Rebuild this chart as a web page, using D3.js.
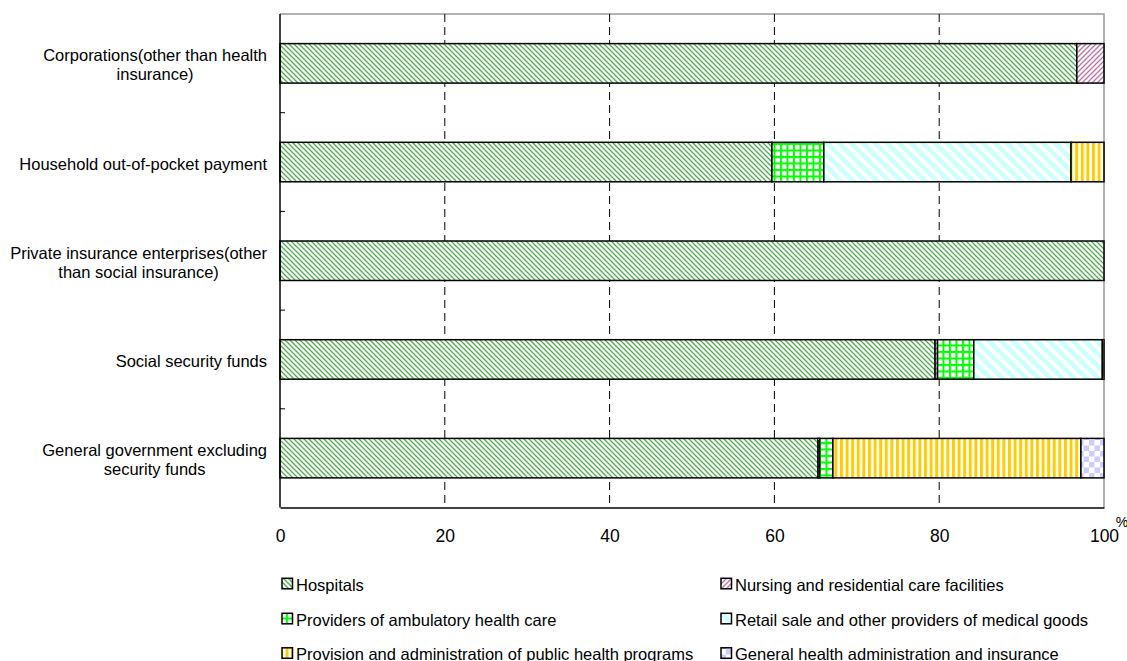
<!DOCTYPE html>
<html><head><meta charset="utf-8">
<script src="https://cdn.jsdelivr.net/npm/d3@7"></script>
<style>body{margin:0;background:#fff;} text{font-family:"Liberation Sans",Arial,sans-serif;fill:#000;}</style>
</head><body><svg id="c" width="1127" height="661"></svg>
<script>
const categories = [
  ["Corporations(other than health", "insurance)"],
  ["Household out-of-pocket payment"],
  ["Private insurance enterprises(other", "than social insurance)"],
  ["Social security funds"],
  ["General government excluding", "security funds"]
];
const seriesNames = [
  "Hospitals",
  "Nursing and residential care facilities",
  "Providers of ambulatory health care",
  "Retail sale and other providers of medical goods",
  "Provision and administration of public health programs",
  "General health administration and insurance"
];
const hospitals   = [96.7, 59.7, 100, 79.5, 65.3];
const nursing     = [3.3, 0, 0, 0.3, 0.2];
const ambulatory  = [0, 6.3, 0, 4.4, 1.6];
const retail      = [0, 30.0, 0, 15.6, 0];
const provision   = [0, 4.0, 0, 0.2, 30.1];
const generalAdm  = [0, 0, 0, 0, 2.8];
const xTicks = [0, 20, 40, 60, 80, 100];

const seriesVals = [hospitals, nursing, ambulatory, retail, provision, generalAdm];
const patIds = ["pHosp","pNurs","pAmb","pRet","pProv","pGen"];

const svg = d3.select("#c");
const L = 280, R = 1104, T = 14, B = 507.5;
const x = d3.scaleLinear().domain([0,100]).range([L,R]);
const y = d3.scaleBand().domain(d3.range(categories.length)).range([T,B]).paddingInner(0.6).paddingOuter(0.3);

// patterns
const defs = svg.append("defs");
let p = defs.append("pattern").attr("id","pHosp").attr("patternUnits","userSpaceOnUse").attr("width",5).attr("height",5);
p.append("rect").attr("width",5).attr("height",5).attr("fill","#fff");
p.append("path").attr("d","M0,0L5,5M-1,4L1,6M4,-1L6,1").attr("stroke","#4dab4d").attr("stroke-width",1.25);
p = defs.append("pattern").attr("id","pNurs").attr("patternUnits","userSpaceOnUse").attr("width",5).attr("height",5);
p.append("rect").attr("width",5).attr("height",5).attr("fill","#fff");
p.append("path").attr("d","M0,5L5,0M-1,1L1,-1M4,6L6,4").attr("stroke","#c0709c").attr("stroke-width",1.25);
p = defs.append("pattern").attr("id","pAmb").attr("patternUnits","userSpaceOnUse").attr("width",6.5).attr("height",6.5);
p.append("rect").attr("width",6.5).attr("height",6.5).attr("fill","#fff");
p.append("rect").attr("width",6.5).attr("height",2).attr("fill","#00ff00");
p.append("rect").attr("width",2).attr("height",6.5).attr("fill","#00ff00");
p = defs.append("pattern").attr("id","pRet").attr("patternUnits","userSpaceOnUse").attr("width",12).attr("height",12);
p.append("rect").attr("width",12).attr("height",12).attr("fill","#fff");
p.append("path").attr("d","M0,0L12,12M-6,6L6,18M6,-6L18,6").attr("stroke","#ccffff").attr("stroke-width",4.5);
p = defs.append("pattern").attr("id","pProv").attr("patternUnits","userSpaceOnUse").attr("width",5.6).attr("height",10);
p.append("rect").attr("width",5.6).attr("height",10).attr("fill","#fff");
p.append("rect").attr("width",3).attr("height",10).attr("fill","#ffcc00");
p = defs.append("pattern").attr("id","pGen").attr("patternUnits","userSpaceOnUse").attr("width",11).attr("height",11);
p.append("rect").attr("width",11).attr("height",11).attr("fill","#fff");
p.append("rect").attr("width",5.5).attr("height",5.5).attr("fill","#ccccff");
p.append("rect").attr("x",5.5).attr("y",5.5).attr("width",5.5).attr("height",5.5).attr("fill","#ccccff");

// frame (top/right gray)
svg.append("path").attr("d",`M${L},${T}H${R}V${B}`).attr("fill","none").attr("stroke","#999").attr("stroke-width",1.5);

// gridlines
svg.append("g").selectAll("line").data(xTicks.filter(t=>t>0&&t<100)).join("line")
  .attr("x1",d=>x(d)).attr("x2",d=>x(d)).attr("y1",T).attr("y2",B)
  .attr("stroke","#000").attr("stroke-width",1).attr("stroke-dasharray","8,5");

// bars
const stacked = d3.stack().keys(d3.range(seriesVals.length)).value((d,k)=>seriesVals[k][d])(d3.range(categories.length));
const g = svg.append("g");
stacked.forEach((s,k)=>{
  g.selectAll(null).data(s.filter(d=>d[1]-d[0]>0)).join("rect")
    .attr("x",d=>x(d[0])).attr("width",d=>x(d[1])-x(d[0]))
    .attr("y",d=>y(d.data)).attr("height",y.bandwidth())
    .attr("fill",`url(#${patIds[k]})`).attr("stroke","#000").attr("stroke-width",1.5);
});

// left axis with inward ticks at band boundaries
const bounds = d3.range(categories.length+1).map(i=>T + i*y.step());
svg.append("line").attr("x1",L).attr("x2",L).attr("y1",T).attr("y2",B).attr("stroke","#000").attr("stroke-width",1.5);
svg.append("g").selectAll("line").data(bounds.slice(1,-1)).join("line")
  .attr("x1",L).attr("x2",L+5).attr("y1",d=>d).attr("y2",d=>d).attr("stroke","#000").attr("stroke-width",1);
// bottom axis
const xAxis = d3.axisBottom(x).tickValues(xTicks).tickSize(0).tickPadding(22);
const ax = svg.append("g").attr("transform",`translate(0,${B})`).call(xAxis);
ax.select(".domain").attr("stroke","#000").attr("stroke-width",1.5);
ax.selectAll("text").style("font-size","17.5px").style("font-family","Liberation Sans, Arial, sans-serif").attr("fill","#000");
svg.append("text").attr("x",1122).attr("y",527).attr("text-anchor","middle").style("font-size","14px").text("%");

// category labels
const lab = svg.append("g");
categories.forEach((lines,i)=>{
  const cy = y(i) + y.bandwidth()/2;
  const tg = lab.append("g");
  const lh = 19;
  const texts = lines.map((t,j)=>tg.append("text").style("font-size","16.5px")
    .attr("y", cy + 7.5 + (j - (lines.length-1)/2)*lh).text(t));
  const w = d3.max(texts, t=>t.node().getComputedTextLength());
  texts.forEach(t=>t.attr("x",267 - w/2).attr("text-anchor","middle"));
});

// legend
const legX = [282, 721], legY = [590.5, 625.5, 660];
seriesNames.forEach((n,k)=>{
  const lx = legX[k%2], ly = legY[Math.floor(k/2)];
  svg.append("rect").attr("x",lx).attr("y",ly-12.2).attr("width",10.5).attr("height",10.5)
    .attr("fill",`url(#${patIds[k]})`).attr("stroke","#000").attr("stroke-width",1.5);
  svg.append("text").attr("x",lx+14).attr("y",ly).style("font-size","16.5px").text(n);
});
</script></body></html>
